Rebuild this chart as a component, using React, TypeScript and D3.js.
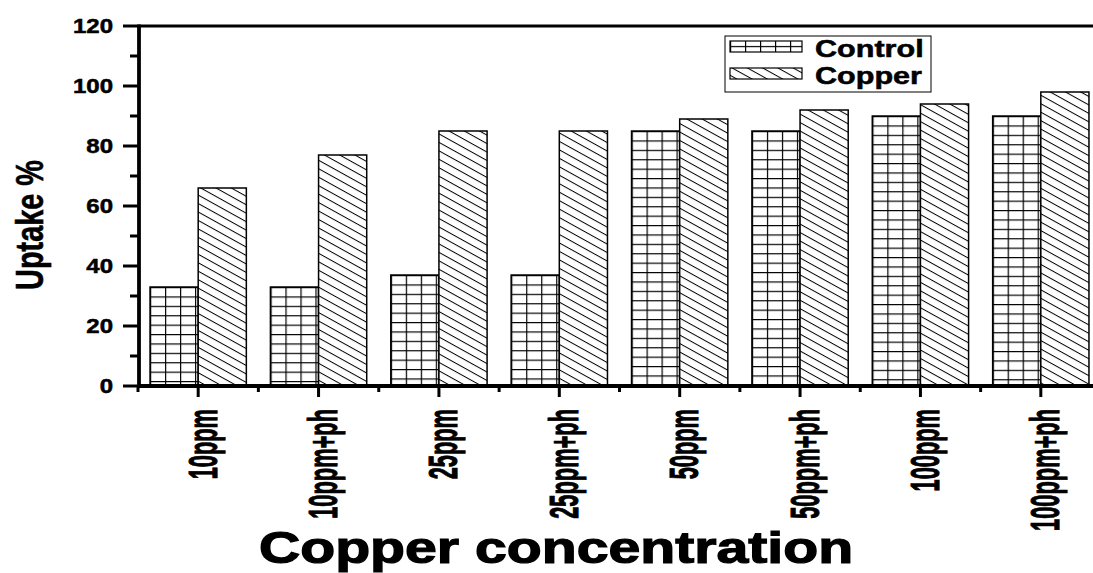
import React from 'react';
import * as d3 from 'd3';

// Data
const categories = ['10ppm', '10ppm+ph', '25ppm', '25ppm+ph', '50ppm', '50ppm+ph', '100ppm', '100ppm+ph'];
const controlValues = [33, 33, 37, 37, 85, 85, 90, 90];
const copperValues = [66, 77, 85, 85, 89, 92, 94, 98];
const yMajorTicks = [0, 20, 40, 60, 80, 100, 120];
const yMinorTicks = [10, 30, 50, 70, 90, 110];
const seriesNames = ['Control', 'Copper'];
const xTitle = 'Copper concentration';
const yTitle = 'Uptake %';

const W = 1093;
const H = 573;
const FONT = "'Liberation Sans', Arial, Helvetica, sans-serif";

const plot = { left: 139, top: 26, bottom: 386, right: 1101 };

export default function App() {
  const x = d3
    .scaleBand<string>()
    .domain(categories)
    .range([plot.left - 1, plot.right])
    .paddingInner(0)
    .paddingOuter(0);
  const y = d3.scaleLinear().domain([0, 120]).range([plot.bottom, plot.top]);
  const bw = x.bandwidth();
  const barW = bw * 0.4;
  const center = (c: string) => (x(c) as number) + bw / 2;

  const gridW = 15;
  const gridH = 9.4;

  const legend = { x: 725, y: 36, w: 206, h: 56, swX: 730, swW: 72, swH: 11 };
  const legendRows = [41, 68];

  return (
    <svg
      width={W}
      height={H}
      viewBox={`0 0 ${W} ${H}`}
      style={{ position: 'absolute', left: 0, top: 0, display: 'block', background: '#fff' }}
    >
      <defs>
        {categories.map((c, i) => (
          <pattern
            key={`g${i}`}
            id={`grid-${i}`}
            patternUnits="userSpaceOnUse"
            x={center(c) - barW}
            y={y(controlValues[i])}
            width={gridW}
            height={gridH}
          >
            <rect width={gridW} height={gridH} fill="#fff" />
            <path d={`M0,0.6H${gridW}M0.6,0V${gridH}`} stroke="#000" strokeWidth={1.2} fill="none" />
          </pattern>
        ))}
        <pattern
          id="grid-legend"
          patternUnits="userSpaceOnUse"
          x={legend.swX}
          y={legendRows[0] + legend.swH / 2 - 0.6}
          width={gridW}
          height={gridH}
        >
          <rect width={gridW} height={gridH} fill="#fff" />
          <path d={`M0,0.6H${gridW}M0.6,0V${gridH}`} stroke="#000" strokeWidth={1.2} fill="none" />
        </pattern>
        <pattern
          id="hatch"
          patternUnits="userSpaceOnUse"
          width={10}
          height={7.4}
          patternTransform="rotate(29)"
        >
          <rect width={10} height={7.4} fill="#fff" />
          <path d="M0,0.5H10" stroke="#000" strokeWidth={1} fill="none" />
        </pattern>
      </defs>

      <rect width={W} height={H} fill="#fff" />

      {/* Bars */}
      {categories.map((c, i) => (
        <g key={c}>
          <rect
            x={center(c) - barW}
            y={y(controlValues[i])}
            width={barW}
            height={plot.bottom - y(controlValues[i])}
            fill={`url(#grid-${i})`}
            stroke="#000"
            strokeWidth={1.5}
          />
          <rect
            x={center(c)}
            y={y(copperValues[i])}
            width={barW}
            height={plot.bottom - y(copperValues[i])}
            fill="url(#hatch)"
            stroke="#000"
            strokeWidth={1.5}
          />
        </g>
      ))}

      {/* Frame */}
      <line x1={plot.left} x2={plot.right} y1={plot.top} y2={plot.top} stroke="#000" strokeWidth={3.2} />
      <line x1={plot.left} x2={plot.right} y1={plot.bottom} y2={plot.bottom} stroke="#000" strokeWidth={3.8} />
      <line x1={plot.left} x2={plot.left} y1={plot.top - 1.6} y2={plot.bottom + 1.9} stroke="#000" strokeWidth={3.8} />

      {/* Y ticks */}
      {yMajorTicks.map((t) => (
        <g key={`ym${t}`}>
          <line x1={plot.left - 16} x2={plot.left} y1={y(t)} y2={y(t)} stroke="#000" strokeWidth={3} />
          <text
            transform={`translate(113,${y(t) + 7}) scale(1.23,1)`}
            textAnchor="end"
            fontFamily={FONT}
            fontWeight="bold"
            fontSize={19.5}
            stroke="#000"
            strokeWidth={0.5}
          >
            {t}
          </text>
        </g>
      ))}
      {yMinorTicks.map((t) => (
        <line key={`yn${t}`} x1={plot.left - 9} x2={plot.left} y1={y(t)} y2={y(t)} stroke="#000" strokeWidth={3} />
      ))}

      {/* X ticks and labels */}
      {categories.map((c) => (
        <g key={`xt${c}`}>
          <line x1={center(c)} x2={center(c)} y1={plot.bottom} y2={plot.bottom + 11} stroke="#000" strokeWidth={3} />
          <line
            x1={x(c) as number}
            x2={x(c) as number}
            y1={plot.bottom}
            y2={plot.bottom + 6}
            stroke="#000"
            strokeWidth={3}
          />
          <text
            transform={`translate(${center(c) + 18.5},409) rotate(-90) scale(0.56,1.05)`}
            textAnchor="end"
            fontFamily={FONT}
            fontWeight="bold"
            fontSize={39}
            stroke="#000"
            strokeWidth={1}
          >
            {c}
          </text>
        </g>
      ))}

      {/* Axis titles */}
      <text
        transform="translate(43,225) rotate(-90) scale(0.74,1)"
        textAnchor="middle"
        fontFamily={FONT}
        fontWeight="bold"
        fontSize={39}
        stroke="#000"
        strokeWidth={0.6}
      >
        {yTitle}
      </text>
      <text
        transform="translate(556,563) scale(1.3,1)"
        textAnchor="middle"
        fontFamily={FONT}
        fontWeight="bold"
        fontSize={44}
        stroke="#000"
        strokeWidth={1.2}
      >
        {xTitle}
      </text>

      {/* Legend */}
      <rect x={legend.x} y={legend.y} width={legend.w} height={legend.h} fill="#fff" stroke="#000" strokeWidth={1} />
      {seriesNames.map((s, i) => (
        <g key={s}>
          <rect
            x={legend.swX}
            y={legendRows[i]}
            width={legend.swW}
            height={legend.swH}
            fill={i === 0 ? 'url(#grid-legend)' : 'url(#hatch)'}
            stroke="#000"
            strokeWidth={1.2}
          />
          <text
            transform={`translate(815,${legendRows[i] + 16}) scale(1.33,1)`}
            fontFamily={FONT}
            fontWeight="bold"
            fontSize={23}
            stroke="#000"
            strokeWidth={0.5}
          >
            {s}
          </text>
        </g>
      ))}
    </svg>
  );
}
